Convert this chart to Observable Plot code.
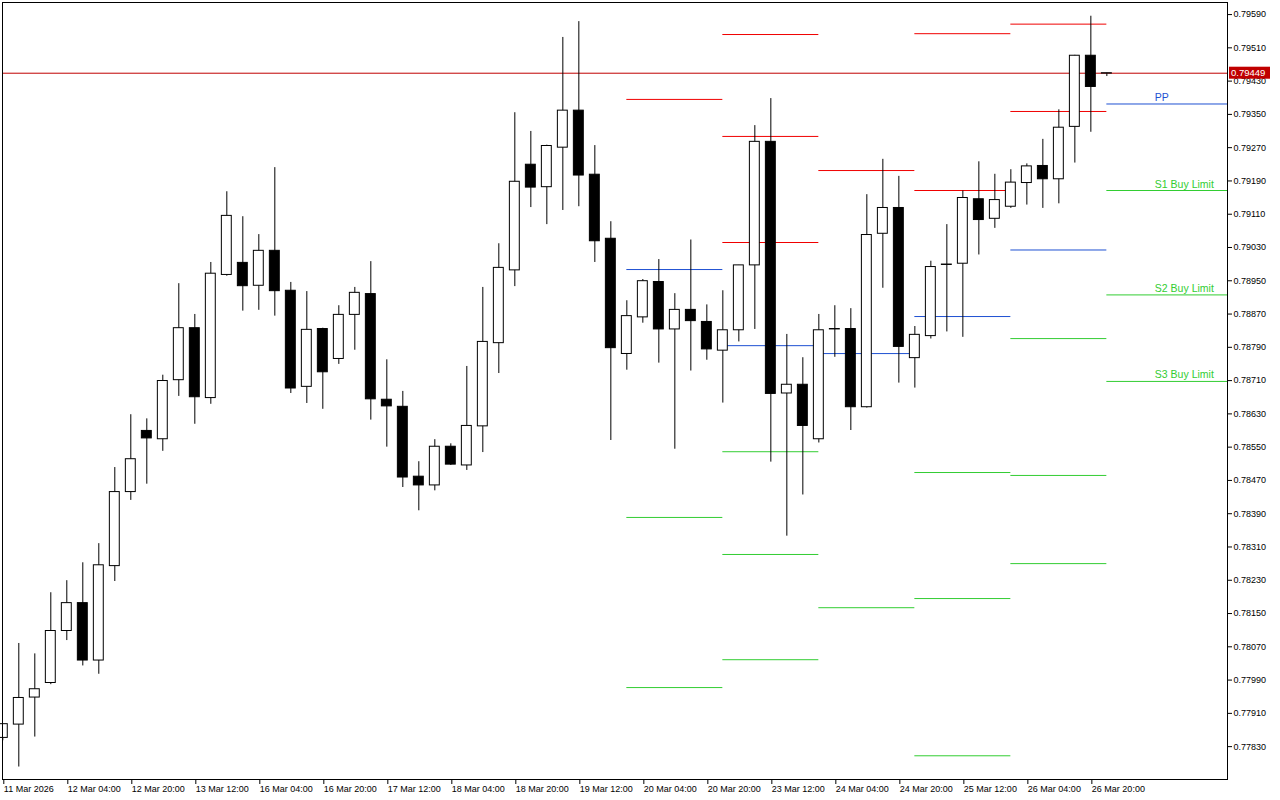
<!DOCTYPE html>
<html><head><meta charset="utf-8">
<script src="https://cdn.jsdelivr.net/npm/d3@7"></script>
<script src="https://cdn.jsdelivr.net/npm/@observablehq/plot@0.6"></script>
<style>
html,body{margin:0;padding:0;background:#fff;}
#chart{width:1280px;height:800px;overflow:hidden;}
</style></head><body><div id="chart"></div>
<script>
// ---- data (H4 candles, 11 Mar 2026 12:00 .. 27 Mar 2026 00:00) ----
const open = [
.77851,.77883,.77948,.77983,.78108,.78175,.78037,.78264,.78442,.78589,
.78569,.78711,.78836,.78668,.78964,.78993,.78938,.79022,.78926,.78695,
.78834,.78762,.78868,.78918,.78664,.78647,.78479,.78458,.78551,.78506,
.78600,.78800,.78975,.79229,.79175,.79270,.79359,.79205,.79051,.78774,
.78862,.78947,.78833,.78880,.78851,.78782,.78831,.78987,.79284,.78679,
.78700,.78569,.78833,.78834,.78646,.79063,.79125,.78764,.78817,.78988,
.78991,.79146,.79099,.79128,.79185,.79226,.79194,.79320,.79491,.79448];
const high = [
.77884,.78078,.78053,.78200,.78229,.78272,.78318,.78501,.78628,.78618,
.78723,.78943,.78869,.78994,.79164,.79104,.79061,.79222,.78946,.78924,
.78836,.78890,.78934,.78996,.78760,.78684,.78515,.78568,.78558,.78744,
.78934,.79039,.79354,.79309,.79276,.79535,.79573,.79275,.79092,.78902,
.78953,.79001,.78919,.79048,.78892,.78926,.78987,.79323,.79388,.78821,
.78765,.78869,.78890,.78883,.79157,.79242,.79201,.78840,.78997,.79085,
.79166,.79236,.79206,.79217,.79231,.79290,.79361,.79492,.79586,.79449];
const low = [
.77844,.77781,.77853,.77979,.78085,.78024,.78004,.78227,.78422,.78461,
.78540,.78672,.78605,.78653,.78961,.78877,.78879,.78865,.78679,.78655,
.78641,.78749,.78783,.78615,.78550,.78453,.78397,.78445,.78506,.78494,
.78537,.78727,.78936,.79126,.79085,.79119,.79128,.78994,.78566,.78735,
.78848,.78752,.78545,.78733,.78759,.78656,.78803,.78833,.78514,.78336,
.78435,.78560,.78766,.78590,.78644,.78932,.78704,.78692,.78810,.78827,
.78814,.79012,.79076,.79124,.79132,.79124,.79135,.79233,.79307,.79441];
const close = [
.77884,.77947,.77968,.78108,.78175,.78037,.78266,.78442,.78521,.78571,
.78709,.78836,.78670,.78967,.79106,.78937,.79022,.78925,.78691,.78832,
.78730,.78868,.78921,.78665,.78648,.78477,.78458,.78551,.78508,.78601,
.78803,.78981,.79188,.79174,.79274,.79359,.79203,.79045,.78788,.78865,
.78949,.78833,.78880,.78853,.78785,.78831,.78987,.79284,.78678,.78700,
.78601,.78831,.78834,.78646,.79060,.79125,.78791,.78820,.78983,.78989,
.79149,.79096,.79144,.79186,.79225,.79194,.79318,.79491,.79416,.79449];

const currentPrice = 0.79449;

// daily pivot levels (start candle index of each day)
const pivotStart = [39, 45, 51, 57, 63, 69];
const r3 = [null, .79542, null, null, null, null];
const r2 = [null, .79297, null, .79544, .79567, null];
const r1 = [.79386, .79042, .79215, .79167, .79357, null];
const pp = [.78977, .78794, .78775, .78864, .79024, .79375];
const s1 = [.78381, .78539, .78164, .78489, .78811, .79167];
const s2 = [.77972, .78292, null, .78186, .78482, .78916];
const s3 = [null, .78039, null, .77808, .78270, .78708];

const levelLabels = ["PP", "S1 Buy Limit", "S2 Buy Limit", "S3 Buy Limit"];

const xTickLabels = ["11 Mar 2026","12 Mar 04:00","12 Mar 20:00","13 Mar 12:00","16 Mar 04:00",
"16 Mar 20:00","17 Mar 12:00","18 Mar 04:00","18 Mar 20:00","19 Mar 12:00","20 Mar 04:00",
"20 Mar 20:00","23 Mar 12:00","24 Mar 04:00","24 Mar 20:00","25 Mar 12:00","26 Mar 04:00","26 Mar 20:00"];
const xTickEvery = 4;

const yTickValues = [0.77830,0.77910,0.77990,0.78070,0.78150,0.78230,0.78310,0.78390,0.78470,
0.78550,0.78630,0.78710,0.78790,0.78870,0.78950,0.79030,0.79110,0.79190,0.79270,0.79350,
0.79430,0.79510,0.79590];

// ---- layout ----
const W = 1280, H = 800;
const mL = 2, mR = 53, mT = 2, mB = 21;
const xDomain = [-0.019, 76.54];
const yDomain = [0.77751, 0.79619];

const RED = "#f00000", BLUE = "#1e50d2", GREEN = "#32cd32", PRICE = "#c00000";

const candles = open.map((o, i) => ({i, o, h: high[i], l: low[i], c: close[i], up: close[i] >= o}));

const levels = [];
const sets = [["R", r3], ["R", r2], ["R", r1], ["P", pp], ["S", s1], ["S", s2], ["S", s3]];
pivotStart.forEach((s, j) => {
  const e = j + 1 < pivotStart.length ? pivotStart[j + 1] : xDomain[1];
  for (const [kind, arr] of sets) {
    if (arr[j] != null) levels.push({x1: s, x2: e, y: arr[j], color: kind === "R" ? RED : kind === "P" ? BLUE : GREEN});
  }
});
const last = pivotStart.length - 1;
const labelIdx = candles.length + 2;
const lastLevels = [
  {text: levelLabels[0], y: pp[last], color: BLUE},
  {text: levelLabels[1], y: s1[last], color: GREEN},
  {text: levelLabels[2], y: s2[last], color: GREEN},
  {text: levelLabels[3], y: s3[last], color: GREEN}
];
const xTickIdx = xTickLabels.map((_, j) => j * xTickEvery);

const axisFont = "Liberation Sans, Arial, sans-serif";

const plot = Plot.plot({
  width: W, height: H,
  marginLeft: mL, marginRight: mR, marginTop: mT, marginBottom: mB,
  x: {type: "linear", domain: xDomain},
  y: {type: "linear", domain: yDomain},
  style: {background: "#fff", color: "#000", fontFamily: axisFont, fontSize: "9px"},
  marks: [
    Plot.ruleY(levels, {x1: "x1", x2: "x2", y: "y", stroke: "color", strokeWidth: 1}),
    Plot.ruleY([currentPrice], {stroke: PRICE, strokeWidth: 1}),
    Plot.ruleX(candles, {x: "i", y1: "l", y2: "h", stroke: "#000", strokeWidth: 1}),
    Plot.rect(candles, {
      x1: d => d.i - 0.31, x2: d => d.i + 0.31,
      y1: d => Math.min(d.o, d.c), y2: d => Math.max(d.o, d.c),
      fill: d => d.up ? "#fff" : "#000", stroke: "#000", strokeWidth: 1
    }),
    Plot.text(lastLevels, {
      x: d => labelIdx, y: "y", text: "text", fill: "color",
      textAnchor: "start", lineAnchor: "bottom", dy: -3,
      fontSize: 10.5, fontFamily: "Liberation Sans, Arial, sans-serif"
    }),
    Plot.frame({stroke: "#000", strokeWidth: 1}),
    Plot.axisY({anchor: "right", ticks: yTickValues, tickFormat: d3.format(".5f"),
      tickSize: 4, tickPadding: 2, label: null, fontSize: 9, fontFamily: axisFont}),
    Plot.axisX({anchor: "bottom", ticks: xTickIdx, tickFormat: d => xTickLabels[Math.round(d / xTickEvery)],
      tickSize: 5, tickPadding: 1, textAnchor: "start", dx: 1, label: null, fontSize: 9, fontFamily: axisFont})
  ]
});

document.getElementById("chart").appendChild(plot);

// current price tag on the price axis
const yPix = plot.scale("y").apply(currentPrice);
const tagX = W - mR + 2;
const svg = d3.select(plot);
svg.append("rect").attr("x", tagX).attr("y", yPix - 6).attr("width", 41).attr("height", 12).attr("fill", PRICE);
svg.append("text").attr("x", tagX + 2).attr("y", yPix).attr("dy", "0.35em")
  .attr("text-anchor", "start")
  .attr("fill", "#fff").attr("font-family", axisFont).attr("font-size", 9.5).text(d3.format(".5f")(currentPrice));
</script>
</body></html>
